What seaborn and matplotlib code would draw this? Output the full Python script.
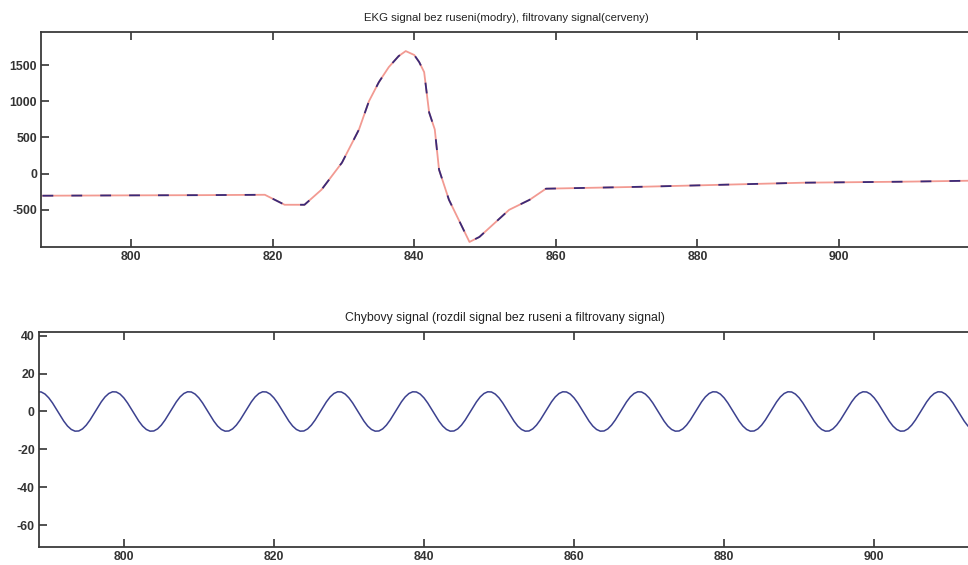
import numpy as np
import pandas as pd
import seaborn as sns
import matplotlib.pyplot as plt

# EKG signal (clean and filtered overlap at this scale)
ekg_x = [787.5, 800.0, 810.0, 818.9, 821.7, 824.5, 826.9, 829.8, 832.2, 833.6, 835.0,
         836.4, 837.8, 838.8, 840.0, 840.7, 841.4, 842.1, 842.9, 843.5, 844.9, 847.8,
         849.2, 853.4, 856.3, 858.6, 872.3, 883.7, 895.0, 909.2, 919.0]
ekg_clean = [-305, -300, -297, -292, -430, -430, -222, 153, 611, 1000, 1264,
             1472, 1625, 1694, 1640, 1542, 1403, 847, 611, 56, -361, -944,
             -875, -500, -361, -208, -181, -153, -125, -111, -97]
ekg_filtered = list(ekg_clean)

# error signal (clean minus filtered), read every half sample from 788 to 913
err_x = np.arange(788, 913.5, 0.5)
err_y = [9.5, 10.4, 10.3, 9.2, 7.2, 4.5, 1.3, -2.0, -5.1, -7.7, -9.5, -10.4, -10.3, -9.2, -7.2, -4.5, -1.3, 2.0, 5.1, 7.7,
         9.5, 10.4, 10.3, 9.2, 7.2, 4.5, 1.3, -2.0, -5.1, -7.7, -9.5, -10.4, -10.3, -9.2, -7.2, -4.5, -1.3, 2.0, 5.1, 7.7,
         9.5, 10.4, 10.3, 9.2, 7.2, 4.5, 1.3, -2.0, -5.1, -7.7, -9.5, -10.4, -10.3, -9.2, -7.2, -4.5, -1.3, 2.0, 5.1, 7.7,
         9.5, 10.4, 10.3, 9.2, 7.2, 4.5, 1.3, -2.0, -5.1, -7.7, -9.5, -10.4, -10.3, -9.2, -7.2, -4.5, -1.3, 2.0, 5.1, 7.7,
         9.5, 10.4, 10.3, 9.2, 7.2, 4.5, 1.3, -2.0, -5.1, -7.7, -9.5, -10.4, -10.3, -9.2, -7.2, -4.5, -1.3, 2.0, 5.1, 7.7,
         9.5, 10.4, 10.3, 9.2, 7.2, 4.5, 1.3, -2.0, -5.1, -7.7, -9.5, -10.4, -10.3, -9.2, -7.2, -4.5, -1.3, 2.0, 5.1, 7.7,
         9.5, 10.4, 10.3, 9.2, 7.2, 4.5, 1.3, -2.0, -5.1, -7.7, -9.5, -10.4, -10.3, -9.2, -7.2, -4.5, -1.3, 2.0, 5.1, 7.7,
         9.5, 10.4, 10.3, 9.2, 7.2, 4.5, 1.3, -2.0, -5.1, -7.7, -9.5, -10.4, -10.3, -9.2, -7.2, -4.5, -1.3, 2.0, 5.1, 7.7,
         9.5, 10.4, 10.3, 9.2, 7.2, 4.5, 1.3, -2.0, -5.1, -7.7, -9.5, -10.4, -10.3, -9.2, -7.2, -4.5, -1.3, 2.0, 5.1, 7.7,
         9.5, 10.4, 10.3, 9.2, 7.2, 4.5, 1.3, -2.0, -5.1, -7.7, -9.5, -10.4, -10.3, -9.2, -7.2, -4.5, -1.3, 2.0, 5.1, 7.7,
         9.5, 10.4, 10.3, 9.2, 7.2, 4.5, 1.3, -2.0, -5.1, -7.7, -9.5, -10.4, -10.3, -9.2, -7.2, -4.5, -1.3, 2.0, 5.1, 7.7,
         9.5, 10.4, 10.3, 9.2, 7.2, 4.5, 1.3, -2.0, -5.1, -7.7, -9.5, -10.4, -10.3, -9.2, -7.2, -4.5, -1.3, 2.0, 5.1, 7.7,
         9.5, 10.4, 10.3, 9.2, 7.2, 4.5, 1.3, -2.0, -5.1, -7.7, -9.5]

x_ticks = [800, 820, 840, 860, 880, 900]
top_yticks = [-500, 0, 500, 1000, 1500]
bottom_yticks = [-60, -40, -20, 0, 20, 40]

top_title = 'EKG signal bez ruseni(modry), filtrovany signal(cerveny)'
bottom_title = 'Chybovy signal (rozdil signal bez ruseni a filtrovany signal)'

sns.set_style('ticks')
plt.rcParams['font.family'] = ['Liberation Sans', 'DejaVu Sans']
plt.rcParams['axes.unicode_minus'] = False

fig = plt.figure(figsize=(9.68, 5.65), dpi=100)
ax1 = fig.add_axes([0.0424, 0.5628, 0.962, 0.3806])
ax2 = fig.add_axes([0.0403, 0.0319, 0.962, 0.3805])

df_ekg = pd.DataFrame({'n': ekg_x, 'clean': ekg_clean, 'filtered': ekg_filtered})
sns.lineplot(data=df_ekg, x='n', y='filtered', ax=ax1, color='#f29a92', linewidth=1.3)
sns.lineplot(data=df_ekg, x='n', y='clean', ax=ax1, color='#3a2a78', linewidth=1.3,
             linestyle=(0, (6, 10)))

df_err = pd.DataFrame({'n': err_x, 'e': err_y})
sns.lineplot(data=df_err, x='n', y='e', ax=ax2, color='#3c418f', linewidth=1.1)

ax1.set_xlim(787.3, 918.8)
ax1.set_ylim(-1014, 1958)
ax2.set_xlim(788.7, 912.8)
ax2.set_ylim(-71.6, 42)

for ax, yt, title, tsize in [(ax1, top_yticks, top_title, 8.2), (ax2, bottom_yticks, bottom_title, 8.8)]:
    ax.set_xticks(x_ticks)
    ax.set_yticks(yt)
    ax.set_xlabel('')
    ax.set_ylabel('')
    ax.set_title(title, fontsize=tsize, color='#222222', pad=8)
    ax.tick_params(direction='in', length=6, width=1.2, top=True, right=False,
                   labelsize=8.8, colors='#333333', pad=3)
    for lbl in ax.get_xticklabels() + ax.get_yticklabels():
        lbl.set_fontweight('bold')
    ax.spines['right'].set_visible(False)
    for sp in ax.spines.values():
        sp.set_color('#3a3a3a')
        sp.set_linewidth(1.3)

fig.savefig('out.png', dpi=100)
